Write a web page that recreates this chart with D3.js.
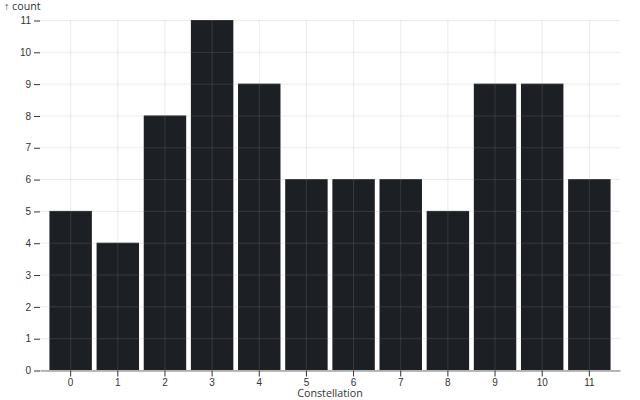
<!DOCTYPE html>
<html>
<head>
<meta charset="utf-8">
<script src="https://cdn.jsdelivr.net/npm/d3@7"></script>
<style>
  body { margin: 0; background: #fff; }
  svg { font-family: "Open Sans", sans-serif; font-size: 10.7px; }
</style>
</head>
<body>
<div id="chart"></div>
<script>
// data
var constellations = ["0", "1", "2", "3", "4", "5", "6", "7", "8", "9", "10", "11"];
var counts         = [5, 4, 8, 11, 9, 6, 6, 6, 5, 9, 9, 6];
var yTicks         = [0, 1, 2, 3, 4, 5, 6, 7, 8, 9, 10, 11];

var width  = 640,
    height = 400,
    margin = {top: 20, right: 20, bottom: 30, left: 40};

var x = d3.scaleBand()
  .domain(constellations)
  .range([margin.left, width - margin.right])
  .paddingInner(0.1)
  .paddingOuter(0.2);

var y = d3.scaleLinear()
  .domain([0, 11])
  .range([height - margin.bottom, margin.top]);

var svg = d3.select("#chart")
  .append("svg")
  .attr("width", width)
  .attr("height", height);

// bars
svg.append("g")
  .attr("fill", "#1c1f24")
  .selectAll("rect")
  .data(counts)
  .enter()
  .append("rect")
  .attr("x", function (d, i) { return x(constellations[i]); })
  .attr("width", x.bandwidth())
  .attr("y", function (d) { return y(d); })
  .attr("height", function (d) { return y(0) - y(d); });

// grid, drawn over the bars
var grid = svg.append("g")
  .attr("stroke", "#999")
  .attr("stroke-opacity", 0.2);

grid.selectAll("line.h")
  .data(yTicks)
  .enter()
  .append("line")
  .attr("class", "h")
  .attr("x1", margin.left)
  .attr("x2", width - margin.right)
  .attr("y1", function (d) { return y(d) + 0.5; })
  .attr("y2", function (d) { return y(d) + 0.5; });

grid.selectAll("line.v")
  .data(constellations)
  .enter()
  .append("line")
  .attr("class", "v")
  .attr("x1", function (d) { return x(d) + x.bandwidth() / 2; })
  .attr("x2", function (d) { return x(d) + x.bandwidth() / 2; })
  .attr("y1", margin.top)
  .attr("y2", height - margin.bottom);

// y axis
var yAxis = svg.append("g")
  .attr("transform", "translate(" + margin.left + ",0.5)")
  .call(d3.axisLeft(y).tickValues(yTicks).tickSize(6).tickPadding(3));
yAxis.select(".domain").remove();
yAxis.selectAll("line").attr("stroke", "#333");
yAxis.selectAll("text").attr("fill", "#333").attr("font-family", null).attr("font-size", null);

svg.append("text")
  .attr("x", 4)
  .attr("y", 10)
  .attr("fill", "#333")
  .text("↑ count");

// x axis
var xAxis = svg.append("g")
  .attr("transform", "translate(0," + (height - margin.bottom + 0.5) + ")")
  .call(d3.axisBottom(x).tickSize(6).tickPadding(2).tickSizeOuter(0));
xAxis.select(".domain").attr("stroke", "#777");
xAxis.selectAll("line").attr("stroke", "#333");
xAxis.selectAll("text").attr("fill", "#333").attr("font-family", null).attr("font-size", null);

svg.append("text")
  .attr("x", (margin.left + width - margin.right) / 2)
  .attr("y", height - 3)
  .attr("text-anchor", "middle")
  .attr("fill", "#333")
  .text("Constellation");
</script>
</body>
</html>
